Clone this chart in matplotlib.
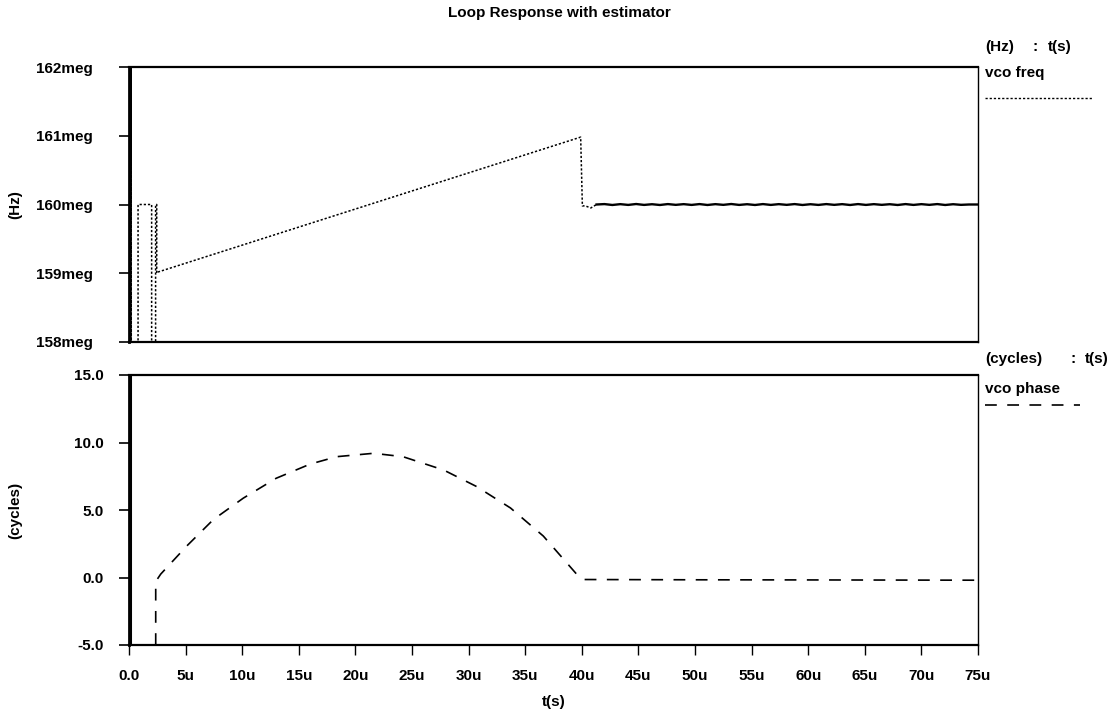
import matplotlib
matplotlib.use("Agg")
import matplotlib.pyplot as plt
from matplotlib.lines import Line2D
from matplotlib.ticker import FixedLocator

plt.rcParams['font.family'] = ['Liberation Sans', 'DejaVu Sans']
plt.rcParams['font.weight'] = 'bold'
plt.rcParams['lines.scale_dashes'] = False

title = "Loop Response with estimator"

# time axis (microseconds)
x_ticks = [0, 5, 10, 15, 20, 25, 30, 35, 40, 45, 50, 55, 60, 65, 70, 75]
x_labels = ["0.0", "5u", "10u", "15u", "20u", "25u", "30u", "35u", "40u",
            "45u", "50u", "55u", "60u", "65u", "70u", "75u"]

# top panel: vco freq (MHz)
freq_ticks = [158, 159, 160, 161, 162]
freq_labels = ["158meg", "159meg", "160meg", "161meg", "162meg"]

# initial oscillation + pulses + ramp
freq_t = [0.00, 0.02, 0.04, 0.06, 0.08, 0.10, 0.12, 0.14, 0.16, 0.18, 0.20,
          0.80, 0.80, 2.00, 2.00, 2.35, 2.35, 2.45, 2.45, 2.60,
          39.9, 40.05, 40.3, 40.8, 41.3]
freq_v = [158, 162, 158, 162, 158, 162, 158, 162, 158, 162, 158,
          158, 160, 160, 158, 158, 160, 160, 159.0, 159.02,
          160.98, 159.98, 159.98, 159.95, 160.0]

# settled ripple after lock
ripple_t = [41.3, 42.0, 42.7, 43.4, 44.1, 44.8, 45.5, 46.2, 46.9, 47.6, 48.3,
            49.0, 49.7, 50.4, 51.1, 51.8, 52.5, 53.2, 53.9, 54.6, 55.3, 56.0,
            56.7, 57.4, 58.1, 58.8, 59.5, 60.2, 60.9, 61.6, 62.3, 63.0, 63.7,
            64.4, 65.1, 65.8, 66.5, 67.2, 67.9, 68.6, 69.3, 70.0, 70.7, 71.4,
            72.1, 72.8, 73.5, 74.2, 75.0]
ripple_v = [160.0, 160.006, 159.993, 160.005, 159.994, 160.007, 159.994, 160.004,
            159.993, 160.006, 159.995, 160.005, 159.994, 160.006, 159.993, 160.005,
            159.995, 160.007, 159.994, 160.004, 159.993, 160.006, 159.994, 160.005,
            159.995, 160.006, 159.993, 160.004, 159.994, 160.006, 159.995, 160.005,
            159.993, 160.006, 159.994, 160.005, 159.995, 160.004, 159.993, 160.006,
            159.994, 160.005, 159.995, 160.006, 159.993, 160.004, 159.995, 160.0, 160.0]

# bottom panel: vco phase (cycles)
phase_ticks = [-5, 0, 5, 10, 15]
phase_labels = ["-5.0", "0.0", "5.0", "10.0", "15.0"]
spike_t = [0.1, 0.1]
spike_v = [-5, 15]
phase_t = [2.36, 2.36, 2.8, 5.1, 7.45, 10.1, 13.0, 16.0, 18.35, 21.6, 24.2,
           27.8, 30.7, 33.7, 36.6, 39.55, 40.2, 50.0, 60.0, 75.0]
phase_v = [-5.0, -0.3, 0.25, 2.33, 4.29, 5.88, 7.35, 8.4, 8.95, 9.2, 8.95,
           7.96, 6.74, 5.15, 3.07, 0.24, -0.15, -0.17, -0.18, -0.2]

W, H = 1118, 713
fig = plt.figure(figsize=(W / 100, H / 100), dpi=100)

def fx(px):
    return px / W

def fy(py):
    return 1 - py / H

left, right = 129, 978
ax1 = fig.add_axes([fx(left), fy(342), fx(right - left), (342 - 67) / H])
ax2 = fig.add_axes([fx(left), fy(645), fx(right - left), (645 - 375) / H])

fs = 11
dotted = (0, (1.6, 1.4))
dashed = (0, (8.5, 7.5))

for ax in (ax1, ax2):
    ax.set_xlim(0, 75)
    for s in ax.spines.values():
        s.set_linewidth(1.0)
    ax.spines['left'].set_linewidth(2.0)
    ax.spines['top'].set_linewidth(1.6)
    ax.spines['bottom'].set_linewidth(1.6)
    ax.tick_params(axis='y', direction='out', length=7, width=1.2,
                   labelsize=fs, right=False)

ax1.plot(freq_t, freq_v, color='black', lw=1.1, ls=dotted)
ax1.plot(ripple_t, ripple_v, color='black', lw=1.7, ls='-')
ax1.set_ylim(158, 162)
ax1.yaxis.set_major_locator(FixedLocator(freq_ticks))
ax1.set_yticklabels(freq_labels)
ax1.set_xticks(x_ticks)
ax1.tick_params(axis='x', direction='in', length=0, labelbottom=False)
ax1.tick_params(axis='y', pad=19)
ax1.set_ylabel("(Hz)", fontsize=fs, fontweight='bold')

ax2.plot(spike_t, spike_v, color='black', lw=2.2, ls='-')
ax2.plot(phase_t, phase_v, color='black', lw=1.2, ls=dashed)
ax2.set_ylim(-5, 15)
ax2.yaxis.set_major_locator(FixedLocator(phase_ticks))
ax2.set_yticklabels(phase_labels)
ax2.set_xticks(x_ticks)
ax2.set_xticklabels(x_labels)
ax2.tick_params(axis='x', direction='out', length=7, width=1.0,
                labelsize=fs, pad=10)
ax2.tick_params(axis='y', pad=11)
ax2.set_ylabel("(cycles)", fontsize=fs, fontweight='bold')
ax2.set_xlabel("t(s)", fontsize=fs, fontweight='bold')

ax1.yaxis.set_label_coords(-0.126, 0.5)
ax2.yaxis.set_label_coords(-0.126, 0.5)
ax2.xaxis.set_label_coords(0.5, -0.185)

fig.text(0.5, fy(13), title, ha='center', va='center', fontsize=fs, fontweight='bold')

# right-side legend annotations
fig.text(fx(985), fy(47), "(Hz)", ha='left', va='center', fontsize=fs, fontweight='bold')
fig.text(fx(1035), fy(47), ":", ha='center', va='center', fontsize=fs, fontweight='bold')
fig.text(fx(1048), fy(47), "t(s)", ha='left', va='center', fontsize=fs, fontweight='bold')
fig.text(fx(985), fy(73), "vco freq", ha='left', va='center', fontsize=fs, fontweight='bold')
fig.add_artist(Line2D([fx(985), fx(1092)], [fy(98), fy(98)], color='black', lw=1.0,
                      ls=dotted, transform=fig.transFigure))
fig.text(fx(985), fy(359), "(cycles)", ha='left', va='center', fontsize=fs, fontweight='bold')
fig.text(fx(1073), fy(359), ":", ha='center', va='center', fontsize=fs, fontweight='bold')
fig.text(fx(1085), fy(359), "t(s)", ha='left', va='center', fontsize=fs, fontweight='bold')
fig.text(fx(985), fy(389), "vco phase", ha='left', va='center', fontsize=fs, fontweight='bold')
fig.add_artist(Line2D([fx(985), fx(1080)], [fy(405), fy(405)], color='black', lw=1.2,
                      ls=dashed, transform=fig.transFigure))

fig.savefig("out.png", dpi=100)
